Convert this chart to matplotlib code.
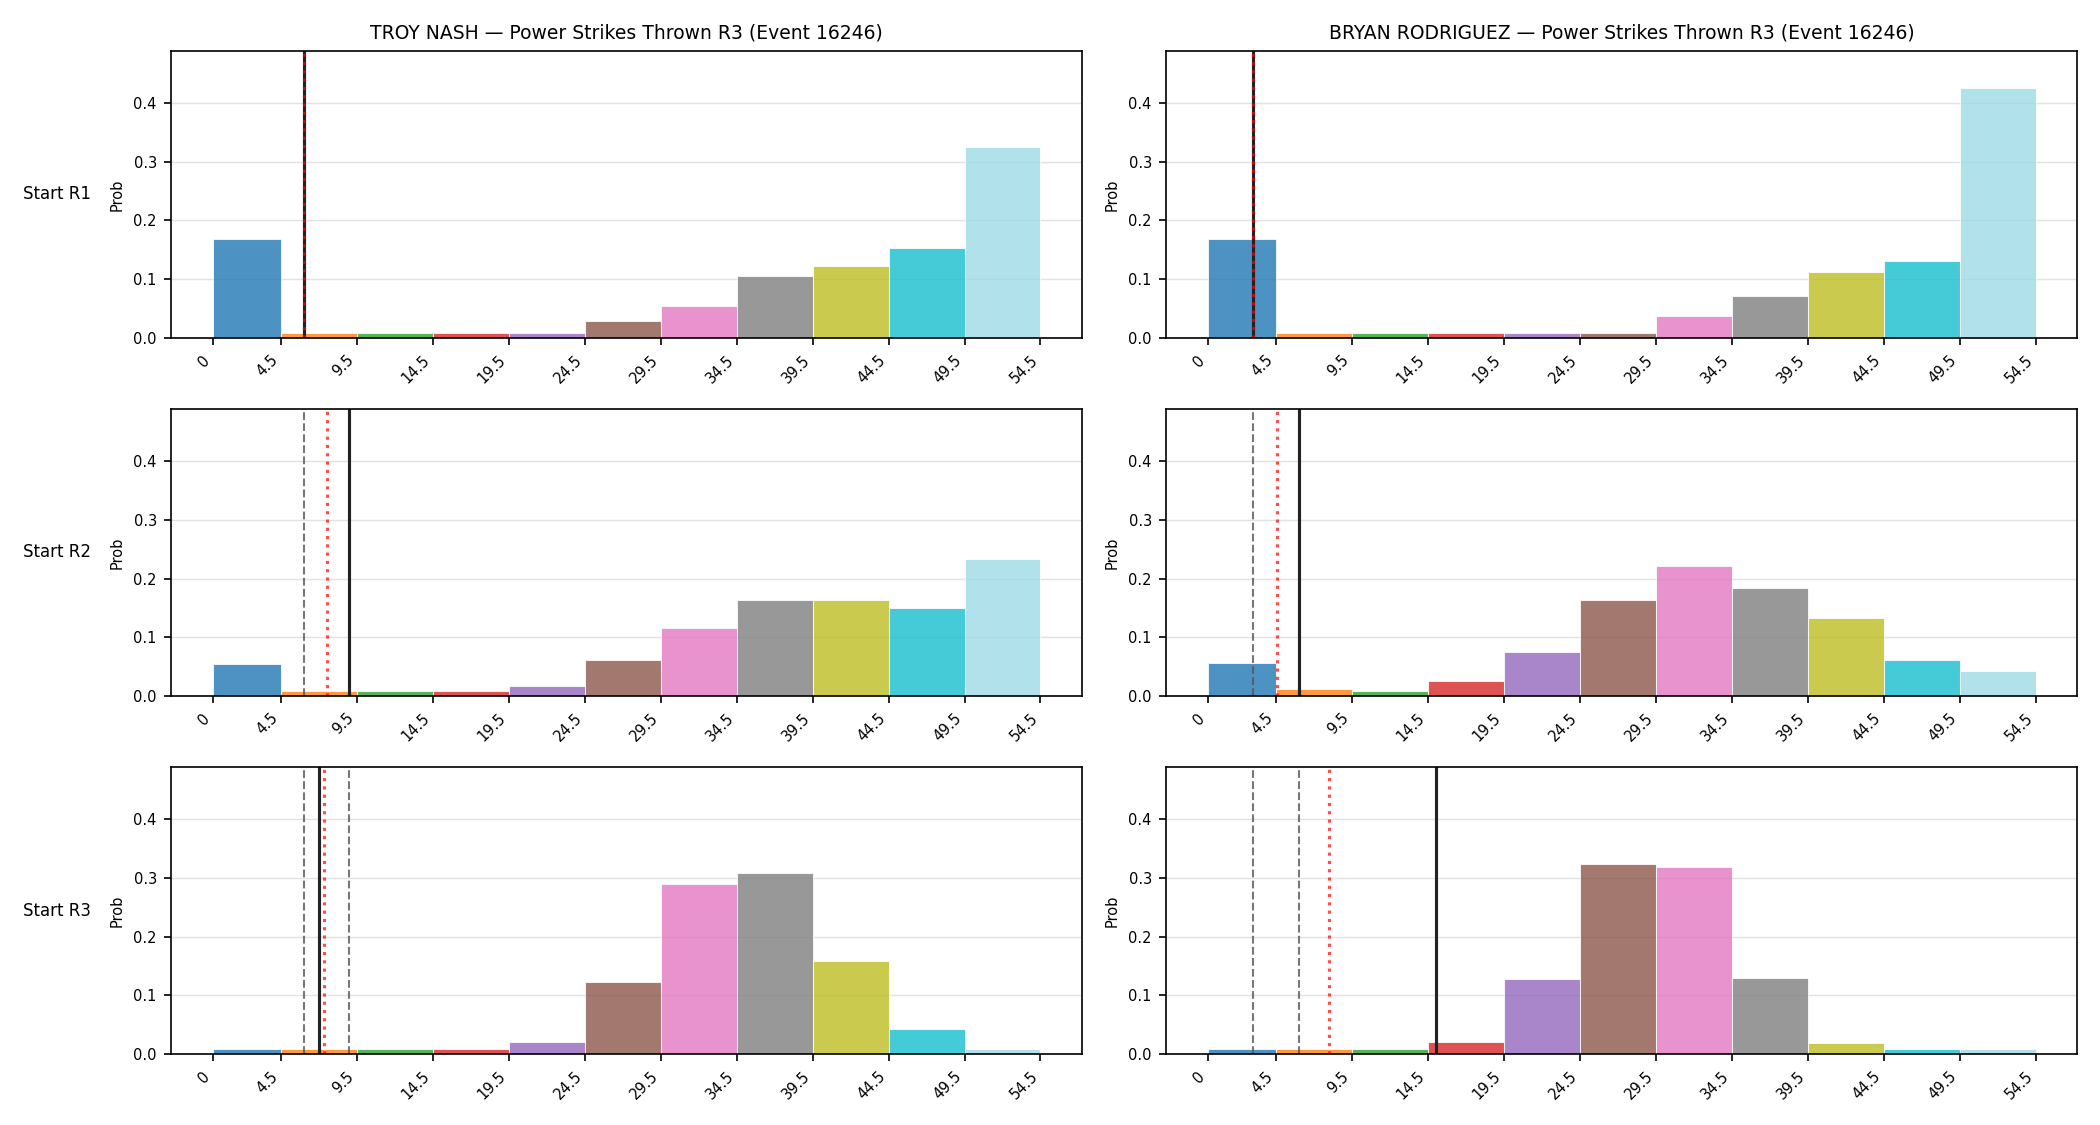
import numpy as np
import matplotlib
matplotlib.use("Agg")
import matplotlib.pyplot as plt

# bin edges shared by every panel
edges = [0, 4.5, 9.5, 14.5, 19.5, 24.5, 29.5, 34.5, 39.5, 44.5, 49.5, 54.5]

fighters = ["TROY NASH", "BRYAN RODRIGUEZ"]
rows = ["Start R1", "Start R2", "Start R3"]

nash_r1 = [0.168, 0.0085, 0.0085, 0.0085, 0.0085, 0.028, 0.055, 0.106, 0.123, 0.153, 0.325]
nash_r2 = [0.055, 0.0085, 0.0085, 0.0085, 0.017, 0.062, 0.116, 0.164, 0.164, 0.149, 0.234]
nash_r3 = [0.0085, 0.0085, 0.0085, 0.0085, 0.020, 0.122, 0.289, 0.309, 0.159, 0.043, 0.0085]

rod_r1 = [0.168, 0.0085, 0.0085, 0.0085, 0.0085, 0.0085, 0.037, 0.072, 0.113, 0.131, 0.425]
rod_r2 = [0.056, 0.012, 0.0085, 0.025, 0.075, 0.164, 0.222, 0.184, 0.133, 0.061, 0.042]
rod_r3 = [0.0085, 0.0085, 0.0085, 0.020, 0.128, 0.323, 0.319, 0.130, 0.019, 0.0085, 0.0085]

# vertical markers: solid = actual, dotted = expected, dashed = earlier rounds
nash_actual = [6, 9, 7]
nash_expected = [6, 7.55, 7.35]
nash_prior = [[], [6], [6, 9]]

rod_actual = [3, 6, 15]
rod_expected = [3, 4.55, 8.0]
rod_prior = [[], [3], [3, 6]]

probs = [[nash_r1, nash_r2, nash_r3], [rod_r1, rod_r2, rod_r3]]
actual = [nash_actual, rod_actual]
expected = [nash_expected, rod_expected]
prior = [nash_prior, rod_prior]

colors = plt.cm.tab20(np.linspace(0, 1, len(edges) - 1))
widths = np.diff(edges)
ymax = max(max(p) for col in probs for p in col) * 1.15

fig, axes = plt.subplots(3, 2, figsize=(14, 7.5), dpi=150)
fig.subplots_adjust(left=0.0816, right=0.989, top=0.9547, bottom=0.0631,
                    wspace=0.0928, hspace=0.248)

for c in range(2):
    for r in range(3):
        ax = axes[r, c]
        ax.bar(edges[:-1], probs[c][r], width=widths, align="edge",
               color=colors, alpha=0.8, edgecolor="white", linewidth=0.5)
        for x in prior[c][r]:
            ax.axvline(x, color="#555555", ls="--", lw=1, alpha=0.8)
        ax.axvline(actual[c][r], color="#222222", lw=1.5)
        ax.axvline(expected[c][r], color="red", ls=":", lw=1.5, alpha=0.7)
        ax.set_ylim(0, ymax)
        ax.set_xticks(edges)
        ax.set_xticklabels([f"{e:g}" for e in edges], rotation=45, ha="right")
        ax.tick_params(labelsize=7)
        ax.set_ylabel("Prob", fontsize=7)
        ax.grid(axis="y", color="#dddddd", lw=0.7, alpha=0.8)
        ax.set_axisbelow(True)
        if r == 0:
            ax.set_title(f"{fighters[c]} — Power Strikes Thrown R3 (Event 16246)",
                         fontsize=9)
        if c == 0:
            ax.text(-0.126, 0.5, rows[r], transform=ax.transAxes,
                    ha="center", va="center", fontsize=8)

fig.savefig("out.png", dpi=150)
